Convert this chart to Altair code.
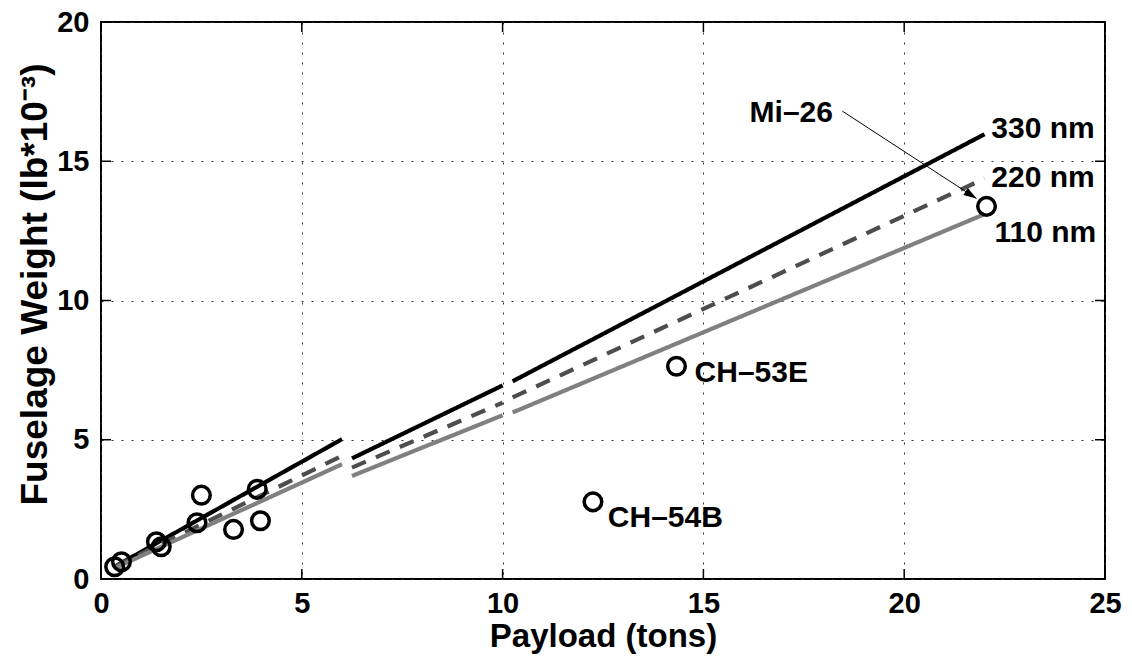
import math
import altair as alt
import pandas as pd

# ---------------- data ----------------
series_names = ["330 nm", "220 nm", "110 nm"]
seg_x = [[0.35, 6.0], [6.25, 10.0], [10.25, 22.0]]
y_330 = [[0.45, 5.02], [4.33, 6.95], [7.10, 15.97]]
y_220 = [[0.45, 4.42], [4.00, 6.33], [6.52, 14.38]]
y_110 = [[0.40, 4.12], [3.70, 5.88], [5.98, 13.10]]

payload = [0.34, 0.51, 1.38, 1.50, 2.39, 2.50, 3.30, 3.89, 3.97, 12.25, 14.33, 22.05]
weight = [0.44, 0.62, 1.34, 1.16, 2.02, 3.01, 1.78, 3.22, 2.09, 2.77, 7.64, 13.38]

label_text = ["330 nm", "220 nm", "110 nm", "Mi\u201326", "CH\u201353E", "CH\u201354B"]
label_x = [22.17, 22.17, 22.25, 16.15, 14.78, 12.62]
label_y = [15.82, 14.08, 12.10, 16.41, 7.08, 1.88]

arrow_start = [18.46, 16.80]
arrow_end = [21.80, 13.66]

x_ticks = [0, 5, 10, 15, 20, 25]
y_ticks = [0, 5, 10, 15, 20]

# ---------------- layout ----------------
W, H = 1004, 557
X_DOM, Y_DOM = [0, 25], [0, 20]
FONT = "Liberation Sans"

rows = []
for name, ysr in zip(series_names, [y_330, y_220, y_110]):
    for i, (xsr, yy) in enumerate(zip(seg_x, ysr)):
        for xv, yv in zip(xsr, yy):
            rows.append({"series": name, "seg": f"{name}-{i}", "x": xv, "y": yv})
lines_df = pd.DataFrame(rows)
pts_df = pd.DataFrame({"x": payload, "y": weight})
lab_df = pd.DataFrame({"t": label_text, "x": label_x, "y": label_y})
arr_df = pd.DataFrame({"x": [arrow_start[0]], "y": [arrow_start[1]],
                       "x2": [arrow_end[0]], "y2": [arrow_end[1]]})

xs = alt.Scale(domain=X_DOM, nice=False, zero=False)
ys = alt.Scale(domain=Y_DOM, nice=False, zero=False)

x_axis = alt.Axis(values=x_ticks, grid=True, gridDash=[2, 8], gridColor="#333333",
                  gridWidth=1, ticks=False, domain=False, labelPadding=10,
                  labelFontSize=29, labelFont=FONT, labelFontWeight="bold",
                  labelColor="black", labelOverlap=False, labelFlush=False,
                  title="Payload (tons)", titleFontSize=33, titleFont=FONT,
                  titleFontWeight="bold", titleColor="black",
                  titleBaseline="alphabetic", titleY=67, titleX=W / 2)
y_axis = alt.Axis(values=y_ticks, grid=True, gridDash=[2, 8], gridColor="#333333",
                  gridWidth=1, ticks=False, domain=False, labelPadding=12,
                  labelFontSize=29, labelFont=FONT, labelFontWeight="bold",
                  labelColor="black", labelOverlap=False, labelFlush=False,
                  labelBaseline="middle",
                  title="Fuselage Weight (lb*10\u207b\u00b3)", titleFontSize=37,
                  titleFont=FONT, titleFontWeight="bold", titleColor="black",
                  titleAngle=270, titleBaseline="alphabetic", titleAlign="center",
                  titleX=-55, titleY=262)


def X(field):
    return alt.X(field, scale=xs, axis=x_axis)


def Y(field):
    return alt.Y(field, scale=ys, axis=y_axis)


lines = alt.Chart(lines_df).mark_line(strokeWidth=4.2, strokeCap="butt").encode(
    x=X("x:Q"), y=Y("y:Q"),
    detail="seg:N",
    color=alt.Color("series:N", scale=alt.Scale(domain=series_names,
                    range=["#000000", "#4d4d4d", "#808080"]), legend=None),
    strokeDash=alt.StrokeDash("series:N", scale=alt.Scale(domain=series_names,
                    range=[[1, 0], [15, 11], [1, 0]]), legend=None),
)

xt = pd.DataFrame({"v": x_ticks})
yt = pd.DataFrame({"v": y_ticks})
tick_b = alt.Chart(xt).mark_rule(color="black", strokeWidth=1.5).encode(
    x=X("v:Q"), y=alt.value(H), y2=alt.value(H - 10))
tick_t = alt.Chart(xt).mark_rule(color="black", strokeWidth=1.5).encode(
    x=X("v:Q"), y=alt.value(0), y2=alt.value(10))
tick_l = alt.Chart(yt).mark_rule(color="black", strokeWidth=1.5).encode(
    y=Y("v:Q"), x=alt.value(0), x2=alt.value(10))
tick_r = alt.Chart(yt).mark_rule(color="black", strokeWidth=1.5).encode(
    y=Y("v:Q"), x=alt.value(W - 10), x2=alt.value(W))

points = alt.Chart(pts_df).mark_point(shape="circle", filled=False, size=310,
                                      stroke="black", strokeWidth=3.5, opacity=1).encode(
    x=X("x:Q"), y=Y("y:Q"))

labels = alt.Chart(lab_df).mark_text(align="left", baseline="alphabetic", font=FONT,
                                     fontSize=30, fontWeight="bold", color="black").encode(
    x=X("x:Q"), y=Y("y:Q"), text="t:N")

arrow_line = alt.Chart(arr_df).mark_rule(color="black", strokeWidth=1).encode(
    x=X("x:Q"), y=Y("y:Q"), x2="x2:Q", y2="y2:Q")

dxp = (arrow_end[0] - arrow_start[0]) * W / (X_DOM[1] - X_DOM[0])
dyp = -(arrow_end[1] - arrow_start[1]) * H / (Y_DOM[1] - Y_DOM[0])
ang = math.degrees(math.atan2(dyp, dxp)) % 360
head_df = pd.DataFrame({"x": [arrow_end[0]], "y": [arrow_end[1]]})
arrow_head = alt.Chart(head_df).mark_point(shape="M0,0L-2,-0.65L-2,0.65Z", filled=True,
                                           fill="black", strokeWidth=0, size=169,
                                           angle=ang, opacity=1).encode(
    x=X("x:Q"), y=Y("y:Q"))

chart = alt.layer(lines, tick_b, tick_t, tick_l, tick_r, points, labels,
                  arrow_line, arrow_head).properties(
    width=W, height=H,
    autosize=alt.AutoSizeParams(type="none"),
    padding={"left": 101, "top": 22, "right": 27, "bottom": 82},
    background="white",
).configure_view(stroke="black", strokeWidth=2)

chart.save("out.html", embed_options={"renderer": "svg", "actions": False})
